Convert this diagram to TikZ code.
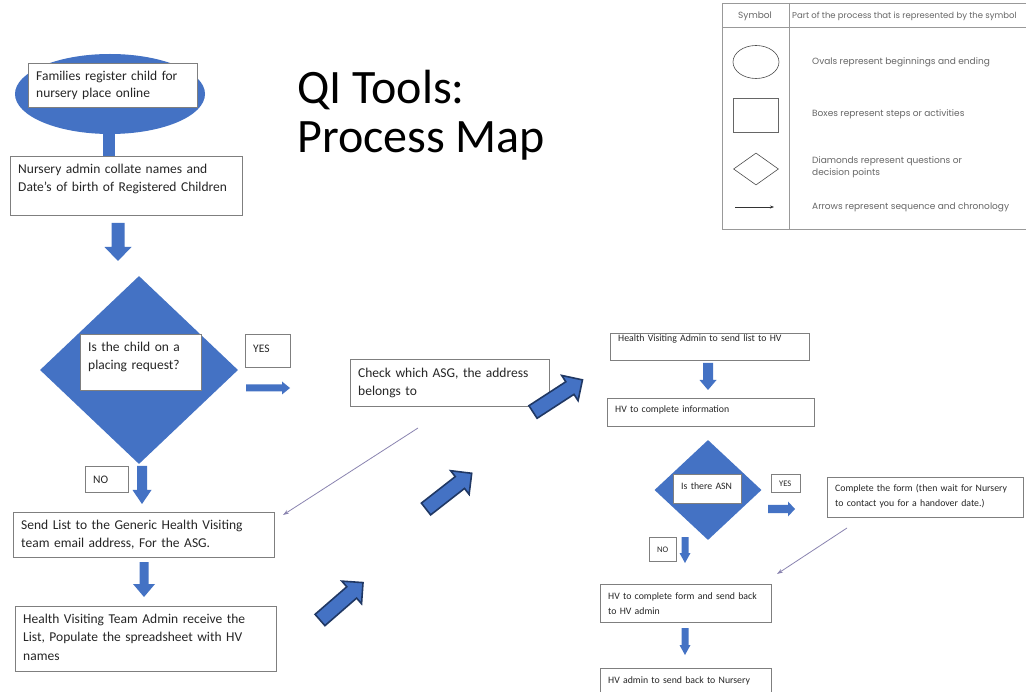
\documentclass[tikz,border=0pt]{standalone}
\usepackage{fontspec}
\setmainfont{Carlito}
\newfontfamily\legendfont{Poppins}
\usetikzlibrary{arrows.meta,shapes.geometric}
\definecolor{flowblue}{HTML}{4472C4}
\definecolor{edgeblue}{HTML}{203864}
\definecolor{framegray}{HTML}{7F7F7F}
\definecolor{inkgray}{HTML}{262626}
\definecolor{legendgray}{HTML}{666666}
\definecolor{linkgray}{HTML}{8A84B0}

% process box: [raise text by] name, x1, y1, x2, y2, font, text
\newcommand\procbox[8][0]{%
  \pgfmathsetlengthmacro\boxw{#5-#3}%
  \pgfmathsetlengthmacro\boxh{#6-#4}%
  \pgfmathsetlengthmacro\boxtw{#5-#3-14}%
  \node[frame, minimum width=\boxw, minimum height=\boxh] (#2) at (#3,#4) {};
  \node[boxtext, text width=\boxtw, font=#7, yshift=#1pt] (#2-t) at ([xshift=8pt]#2.west) {#8};}

% block arrow: [style] x, y, angle, length, shaft half width, head half width, head length
\newcommand\blockarrow[8][flat]{%
  \begin{scope}[shift={(#2,#3)}, rotate=#4]
    \path[#1] (0,-#6) -- ({#5-#8},-#6) -- ({#5-#8},-#7) -- (#5,0)
      -- ({#5-#8},#7) -- ({#5-#8},#6) -- (0,#6) -- cycle;
  \end{scope}}

\begin{document}
\begin{tikzpicture}[x=1pt,y=-1pt,
  frame/.style={draw=framegray, line width=0.8pt, fill=white, anchor=north west, inner sep=0pt},
  boxtext/.style={anchor=west, inner sep=0pt, align=left, text=inkgray},
  flat/.style={fill=flowblue},
  diag/.style={fill=flowblue, draw=edgeblue, line width=1.6pt, line join=miter},
  decision/.style={diamond, fill=flowblue, inner sep=0pt},
  link/.style={draw=linkgray, line width=0.8pt, -{Stealth[length=6pt,width=4pt]}},
  legendline/.style={draw=black!40, line width=0.7pt},
  legendtext/.style={anchor=west, inner sep=0pt, font=\legendfont\fontsize{9}{12.5}\selectfont, text=legendgray, align=left},
  titletext/.style={anchor=base west, inner sep=0pt, text=black, font=\fontsize{48}{50}\selectfont}]
\useasboundingbox (0,0) rectangle (1026,692);
\clip (0,0) rectangle (1026,692);
\fill[white] (0,0) rectangle (1026,692);

% ---------- title ----------
\node[titletext] (title1) at (297,104) {QI Tools:};
\node[titletext] (title2) at (297,153) {Process Map};

% ---------- legend table ----------
\path[legendline] (1030,3) -- (722,3) -- (722,229) -- (1030,229);
\path[legendline] (722,27) -- (1030,27);
\path[legendline] (789,3) -- (789,229);
\node[legendtext] (lghead1) at (738,16) {Symbol};
\node[legendtext, font=\legendfont\fontsize{8.5}{12}\selectfont] (lghead2) at (792,16) {Part of the process that is represented by the symbol};
\node[ellipse, draw=black!70, line width=0.6pt, minimum width=46pt, minimum height=33pt, inner sep=0pt] (lgoval) at (756,62) {};
\node[draw=black!60, line width=0.6pt, minimum width=45pt, minimum height=34pt, inner sep=0pt] (lgbox) at (756,115) {};
\node[diamond, draw=black!70, line width=0.6pt, minimum width=45pt, minimum height=32pt, inner sep=0pt] (lgdiam) at (756,169) {};
\coordinate (lga1) at (735,207);
\coordinate (lga2) at (774,207);
\draw[black!80, line width=0.6pt, -{Stealth[length=4pt,width=3pt]}] (lga1) -- (lga2);
\node[legendtext] (lgt1) at (812,62) {Ovals represent beginnings and ending};
\node[legendtext] (lgt2) at (812,114) {Boxes represent steps or activities};
\node[legendtext] (lgt3) at (812,167) {Diamonds represent questions or\\decision points};
\node[legendtext] (lgt4) at (812,207) {Arrows represent sequence and chronology};

% ---------- left column ----------
\node[ellipse, fill=flowblue, minimum width=190pt, minimum height=80pt, inner sep=0pt] (start) at (110,94) {};
\fill[flowblue] (103,130) rectangle (115,157);
\procbox{register}{28}{63}{197}{107}{\fontsize{13.5}{17}\selectfont}{Families register child for\\nursery place online}
\procbox[7]{collate}{10}{156}{242}{215}{\fontsize{13.5}{18}\selectfont}{Nursery admin collate names and\\Date’s of birth of Registered Children}
\blockarrow{118}{223}{-90}{38}{6.5}{13.5}{14}

\node[decision, minimum width=198pt, minimum height=188pt] (placing) at (139,370) {};
\procbox[5]{placingq}{80}{334}{201}{390}{\fontsize{13.5}{18}\selectfont}{Is the child on a\\placing request?}
\procbox[2]{yes1}{245}{334}{290}{367}{\fontsize{11.5}{14}\selectfont}{YES}
\blockarrow{246}{388}{0}{44}{3.5}{6.5}{8}
\procbox[0]{no1}{85}{466}{128}{492}{\fontsize{11.5}{14}\selectfont}{NO}
\blockarrow{142}{466}{-90}{38}{5}{9.5}{14}

\procbox{sendlist}{13}{512}{274}{557}{\fontsize{13.5}{18}\selectfont}{Send List to the Generic Health Visiting\\team email address, For the ASG.}
\blockarrow{144}{562}{-90}{35}{4.5}{11}{13}
\procbox[2]{populate}{15}{606}{276}{671}{\fontsize{13.5}{18.5}\selectfont}{Health Visiting Team Admin receive the\\List, Populate the spreadsheet with HV\\names}

% ---------- middle ----------
\procbox{checkasg}{350}{359}{549}{406}{\fontsize{13.5}{18}\selectfont}{Check which ASG, the address\\belongs to}
\coordinate (link1s) at (418,428);
\coordinate (link1e) at (283,515);
\draw[link] (link1s) -- (link1e);
\blockarrow[diag]{320}{620}{41}{57}{7.5}{15}{15}
\blockarrow[diag]{426}{509}{38}{58}{7.5}{15}{15}
\blockarrow[diag]{533}{412}{33}{59}{7.5}{15}{15}

% ---------- right column ----------
\procbox[8]{sendhv}{610}{333}{809}{360}{\fontsize{9.8}{12}\selectfont}{Health Visiting Admin to send list to HV}
\blockarrow{708}{363}{-90}{27}{5}{8.5}{10}
\procbox[3]{hvinfo}{607}{398}{814}{426}{\fontsize{9.8}{12}\selectfont}{HV to complete information}

\node[decision, minimum width=107pt, minimum height=100pt] (asn) at (708,490) {};
\procbox[3]{asnq}{673}{474}{741}{503}{\fontsize{9.8}{12}\selectfont}{Is there ASN}
\procbox[0]{yes2}{771}{474}{800}{492}{\fontsize{8.5}{10}\selectfont}{YES}
\blockarrow{768}{509}{0}{27}{4}{7.5}{7}
\procbox[1]{handover}{827}{477}{1023}{517}{\fontsize{9.8}{15}\selectfont}{Complete the form (then wait for Nursery\\to contact you for a handover date.)}
\coordinate (link2s) at (847,528);
\coordinate (link2e) at (777,574);
\draw[link] (link2s) -- (link2e);
\procbox[0]{no2}{649}{537}{676}{561}{\fontsize{8.5}{10}\selectfont}{NO}
\blockarrow{685}{537}{-90}{26}{3.5}{5.5}{10}

\procbox{formback}{600}{584}{771}{622}{\fontsize{9.8}{14.5}\selectfont}{HV to complete form and send back\\to HV admin}
\blockarrow{685}{628}{-90}{27}{3.5}{5.5}{10}
\procbox[0]{nursery}{600}{668}{771}{693}{\fontsize{9.8}{12}\selectfont}{HV admin to send back to Nursery}
\end{tikzpicture}
\end{document}
